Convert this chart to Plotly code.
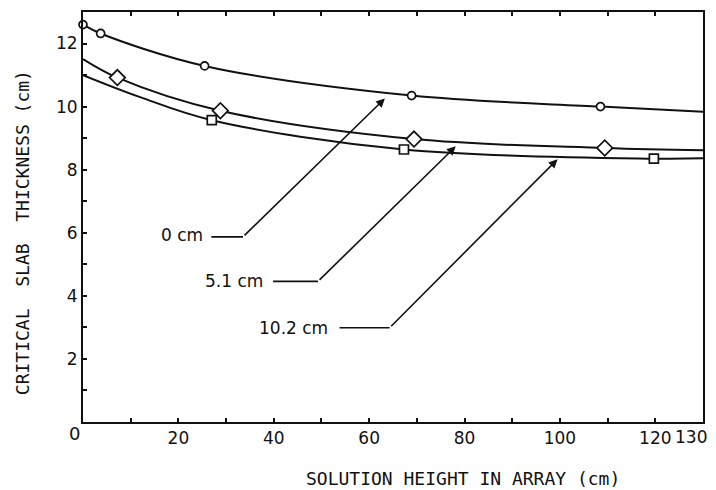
import plotly.graph_objects as go

# ---- data ----
# 0 cm series (circles)
h_0 = [0, 3.7, 25.5, 68.9, 108.5]
t_0 = [12.60, 12.32, 11.29, 10.35, 10.00]
curve_h_0 = [0, 3.7, 25.5, 68.9, 108.5, 130]
curve_t_0 = [12.60, 12.32, 11.29, 10.35, 10.00, 9.84]

# 5.1 cm series (diamonds)
h_51 = [7.2, 28.8, 69.4, 109.4]
t_51 = [10.92, 9.87, 8.97, 8.69]
curve_h_51 = [0, 7.2, 28.8, 69.4, 109.4, 130]
curve_t_51 = [11.51, 10.92, 9.87, 8.97, 8.69, 8.62]

# 10.2 cm series (squares)
h_102 = [27.0, 67.3, 119.7]
t_102 = [9.57, 8.64, 8.35]
curve_h_102 = [0, 12.0, 27.0, 67.3, 119.7, 130]
curve_t_102 = [11.00, 10.30, 9.57, 8.64, 8.35, 8.36]

x_tickvals = [0, 10, 20, 30, 40, 50, 60, 70, 80, 90, 100, 110, 120, 130]
x_ticktext = ["", "", "20", "", "40", "", "60", "", "80", "", "100", "", "120", ""]
x_last_label = "130"
y_tickvals = [0, 1, 2, 3, 4, 5, 6, 7, 8, 9, 10, 11, 12, 13]
y_ticktext = ["", "", "2", "", "4", "", "6", "", "8", "", "10", "", "12", ""]
origin_label = "0"

FONT = "DejaVu Sans"
TITLE_FONT = "DejaVu Sans Mono"
BLACK = "#111111"
NB = "\u00a0"

fig = go.Figure()

for ch, ct in [(curve_h_0, curve_t_0), (curve_h_51, curve_t_51), (curve_h_102, curve_t_102)]:
    fig.add_trace(go.Scatter(x=ch, y=ct, mode="lines",
                             line=dict(color=BLACK, width=2, shape="spline", smoothing=1.0),
                             cliponaxis=False, showlegend=False, hoverinfo="skip"))

fig.add_trace(go.Scatter(x=h_0, y=t_0, mode="markers", cliponaxis=False, showlegend=False,
                         marker=dict(symbol="circle", size=8, color="white",
                                     line=dict(color=BLACK, width=1.7))))
fig.add_trace(go.Scatter(x=h_51, y=t_51, mode="markers", cliponaxis=False, showlegend=False,
                         marker=dict(symbol="diamond", size=12, color="white",
                                     line=dict(color=BLACK, width=1.7))))
fig.add_trace(go.Scatter(x=h_102, y=t_102, mode="markers", cliponaxis=False, showlegend=False,
                         marker=dict(symbol="square", size=9, color="white",
                                     line=dict(color=BLACK, width=1.7))))

# leader lines with arrows: (label, text_x, text_y, line_start_x, corner_x, corner_y, tip_x, tip_y)
leaders = [
    ("0" + NB + "cm", 25.5, 5.93, 26.9, 33.55, 5.87, 63.3, 10.26),
    ("5.1" + NB + "cm", 38.1, 4.48, 39.84, 49.28, 4.46, 78.15, 8.74),
    ("10.2" + NB + "cm", 51.7, 2.97, 53.8, 64.3, 2.99, 99.5, 8.33),
]
for lab, tx, ty, lx, cx, cy, px, py in leaders:
    fig.add_shape(type="line", x0=lx, y0=cy, x1=cx, y1=cy, xref="x", yref="y",
                  line=dict(color=BLACK, width=1.6))
    fig.add_annotation(x=px, y=py, ax=cx, ay=cy, xref="x", yref="y", axref="x", ayref="y",
                       showarrow=True, arrowhead=2, arrowsize=1.1, arrowwidth=1.6,
                       arrowcolor=BLACK, text="", standoff=0)
    fig.add_annotation(x=tx, y=ty, xref="x", yref="y", text=lab, showarrow=False,
                       xanchor="right", yanchor="middle",
                       font=dict(family=FONT, size=17, color=BLACK))

# origin label shared by both axes
fig.add_annotation(x=-0.0145, y=-0.027, xref="paper", yref="paper", text=origin_label,
                   showarrow=False, xanchor="center", yanchor="middle",
                   font=dict(family=FONT, size=18, color=BLACK))
# last x label, kept inside the window
fig.add_annotation(x=1.0097, y=-0.0366, xref="paper", yref="paper", text=x_last_label,
                   showarrow=False, xanchor="right", yanchor="middle",
                   font=dict(family=FONT, size=17, color=BLACK))

# axis titles
fig.add_annotation(x=0.613, y=-0.137, xref="paper", yref="paper",
                   text="SOLUTION" + NB + "HEIGHT" + NB + "IN" + NB + "ARRAY" + NB + "(cm)",
                   showarrow=False, xanchor="center", yanchor="middle",
                   font=dict(family=TITLE_FONT, size=18, color=BLACK))
fig.add_annotation(x=-0.0984, y=0.463, xref="paper", yref="paper",
                   text="CRITICAL" + NB * 2 + "SLAB" + NB * 2 + "THICKNESS" + NB + "(cm)",
                   showarrow=False, textangle=-90, xanchor="center", yanchor="middle",
                   font=dict(family=TITLE_FONT, size=18, color=BLACK))

fig.update_xaxes(range=[0, 130], tickvals=x_tickvals, ticktext=x_ticktext, automargin=False,
                 ticks="inside", ticklen=4, tickwidth=1.6, tickcolor=BLACK,
                 showline=True, linecolor=BLACK, linewidth=2, mirror="ticks",
                 showgrid=False, zeroline=False,
                 tickfont=dict(family=FONT, size=17, color=BLACK))
fig.update_yaxes(range=[0, 13], tickvals=y_tickvals, ticktext=y_ticktext, automargin=False,
                 ticks="inside", ticklen=4, tickwidth=1.6, tickcolor=BLACK,
                 showline=True, linecolor=BLACK, linewidth=2, mirror=True,
                 showgrid=False, zeroline=False,
                 tickfont=dict(family=FONT, size=17, color=BLACK))

# the page body adds an 8px offset, so the figure is sized to fill the remaining window
fig.update_layout(width=708, height=482, margin=dict(l=75, r=13, t=4, b=68),
                  paper_bgcolor="white", plot_bgcolor="white", showlegend=False)

fig.write_html("out.html")
